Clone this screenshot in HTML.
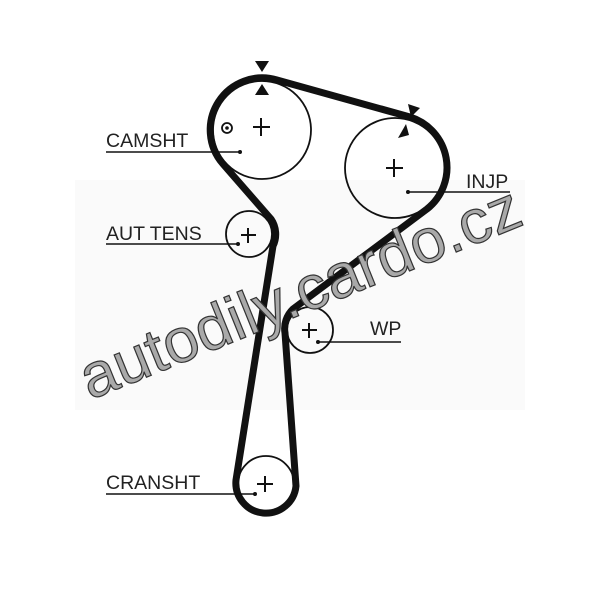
<!DOCTYPE html>
<html><head><style>html,body{margin:0;padding:0;background:#fff}svg{display:block}</style></head>
<body>
<svg width="600" height="589" viewBox="0 0 600 589" xmlns="http://www.w3.org/2000/svg">
<rect x="75" y="180" width="450" height="230" fill="#fafafa"/>
<g fill="none" stroke="#111" stroke-width="1.8">
<circle cx="262" cy="130" r="49"/>
<circle cx="395" cy="168" r="50"/>
<circle cx="249" cy="234" r="23"/>
<circle cx="310" cy="330" r="23"/>
<circle cx="266" cy="484" r="28"/>
<circle cx="227" cy="128" r="5"/>
</g>
<circle cx="227" cy="128" r="1.8" fill="#111"/>
<path d="M277,80 L410,117 A53,53 0 0 1 427,209 L293,309 A27,27 0 0 0 285,333 L296,486 A30,30 0 1 1 236,480 L273,246 A27,27 0 0 0 271,219 L223,164 A52,52 0 0 1 277,80 Z" fill="none" stroke="#111" stroke-width="7" stroke-linejoin="round"/>
<g stroke="#111" stroke-width="2">
<path d="M253,127h17M261,118v18"/>
<path d="M386,168h17M394,159v18"/>
<path d="M241,235h15M248,228v15"/>
<path d="M302,330h15M309,323v15"/>
<path d="M257,484h16M265,476v16"/>
</g>
<g fill="#111">
<polygon points="255,61 269,61 262,72"/>
<polygon points="255,95 269,95 262,84"/>
<polygon points="408,104 420,108 411,117"/>
<polygon points="398,138 409,135 406,124"/>
</g>
<g stroke="#111" stroke-width="1.6">
<line x1="106" y1="152" x2="240" y2="152"/>
<line x1="106" y1="244" x2="238" y2="244"/>
<line x1="106" y1="494" x2="255" y2="494"/>
<line x1="408" y1="192" x2="510" y2="192"/>
<line x1="318" y1="342" x2="401" y2="342"/>
</g>
<g fill="#111"><circle cx="240" cy="152" r="2"/><circle cx="238" cy="244" r="2"/><circle cx="255" cy="494" r="2"/><circle cx="408" cy="192" r="2"/><circle cx="318" cy="342" r="2"/></g>
<g font-family="Liberation Sans, sans-serif" font-size="19.5" fill="#222">
<text x="106" y="147">CAMSHT</text>
<text x="106" y="240">AUT TENS</text>
<text x="106" y="489">CRANSHT</text>
<text x="466" y="188">INJP</text>
<text x="370" y="335">WP</text>
</g>
<text transform="translate(90,400) rotate(-22)" font-family="Liberation Sans, sans-serif" font-size="62" fill="#a9a9a9" stroke="#333" stroke-width="1.2" textLength="470" lengthAdjust="spacingAndGlyphs">autodily.cardo.cz</text>
</svg>
</body></html>
